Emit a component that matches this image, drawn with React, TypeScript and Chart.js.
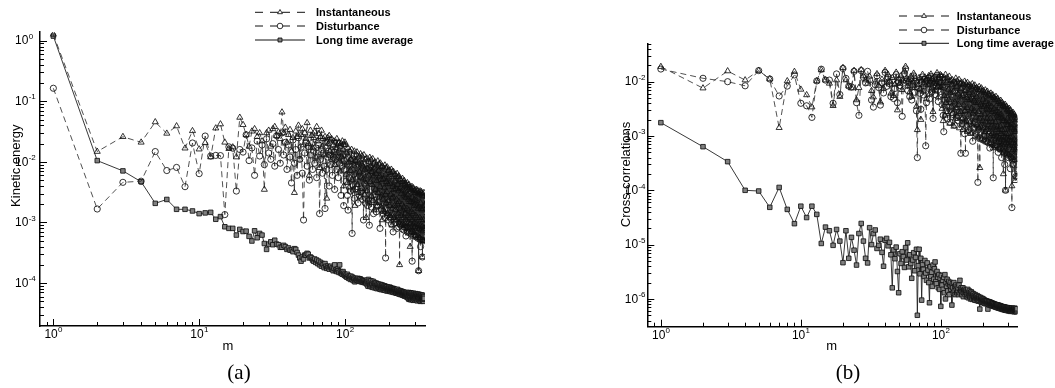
import React, { useEffect, useRef } from 'react';
import { Chart, registerables } from 'chart.js';

Chart.register(...registerables);

// ---------------- data ----------------
const M = [
  1, 2, 3, 4, 5, 6, 7, 8, 9, 10,
  11, 12, 13, 14, 15, 16, 17, 18, 19, 20,
  21, 22, 23, 24, 25, 26, 27, 28, 29, 30,
  31, 32, 33, 34, 35, 36, 37, 38, 39, 40,
  41, 42, 43, 44, 45, 46, 47, 48, 49, 50,
  51, 52, 53, 54, 55, 56, 57, 58, 59, 60,
  61, 62, 63, 64, 65, 66, 67, 68, 69, 70,
  71, 72, 73, 74, 75, 76, 77, 78, 79, 80,
  81, 82, 83, 84, 85, 86, 87, 88, 89, 90,
  91, 92, 93, 94, 95, 96, 97, 98, 99, 100,
  101, 102, 103, 104, 105, 106, 107, 108, 109, 110,
  111, 112, 113, 114, 115, 116, 117, 118, 119, 120,
  121, 122, 123, 124, 125, 126, 127, 128, 129, 130,
  131, 132, 133, 134, 135, 136, 137, 138, 139, 140,
  141, 142, 143, 144, 145, 146, 147, 148, 149, 150,
  151, 152, 153, 154, 155, 156, 157, 158, 159, 160,
  161, 162, 163, 164, 165, 166, 167, 168, 169, 170,
  171, 172, 173, 174, 175, 176, 177, 178, 179, 180,
  181, 182, 183, 184, 185, 186, 187, 188, 189, 190,
  191, 192, 193, 194, 195, 196, 197, 198, 199, 200,
  201, 202, 203, 204, 205, 206, 207, 208, 209, 210,
  211, 212, 213, 214, 215, 216, 217, 218, 219, 220,
  221, 222, 223, 224, 225, 226, 227, 228, 229, 230,
  231, 232, 233, 234, 235, 236, 237, 238, 239, 240,
  241, 242, 243, 244, 245, 246, 247, 248, 249, 250,
  251, 252, 253, 254, 255, 256, 257, 258, 259, 260,
  261, 262, 263, 264, 265, 266, 267, 268, 269, 270,
  271, 272, 273, 274, 275, 276, 277, 278, 279, 280,
  281, 282, 283, 284, 285, 286, 287, 288, 289, 290,
  291, 292, 293, 294, 295, 296, 297, 298, 299, 300,
  301, 302, 303, 304, 305, 306, 307, 308, 309, 310,
  311, 312, 313, 314, 315, 316, 317, 318, 319, 320,
  321, 322, 323, 324, 325, 326, 327, 328, 329, 330,
  331, 332, 333, 334, 335, 336, 337, 338, 339, 340,
  341, 342, 343, 344, 345, 346, 347, 348, 349, 350,
];

const SERIES_NAMES = ['Instantaneous', 'Disturbance', 'Long time average'];
const X_TICK_DECADES = [0, 1, 2];
const A_Y_TICK_DECADES = [0, -1, -2, -3, -4];
const B_Y_TICK_DECADES = [-2, -3, -4, -5, -6];

// (a) Kinetic energy
const A_INST = [
  1.27, 0.0148, 0.026, 0.021, 0.0455, 0.0295, 0.039, 0.0168, 0.0325, 0.0162,
  0.0207, 0.012, 0.036, 0.042, 0.021, 0.0165, 0.0175, 0.012, 0.054, 0.041,
  0.028, 0.018, 0.032, 0.035, 0.026, 0.03, 0.022, 0.0035, 0.03, 0.033,
  0.018, 0.035, 0.038, 0.027, 0.031, 0.024, 0.066, 0.03, 0.037, 0.021,
  0.028, 0.034, 0.015, 0.025, 0.0031, 0.032, 0.026, 0.04, 0.011, 0.028,
  0.035, 0.019, 0.03, 0.024, 0.044, 0.02, 0.006, 0.033, 0.027, 0.017,
  0.025, 0.031, 0.012, 0.038, 0.022, 0.029, 0.008, 0.026, 0.033, 0.018,
  0.024, 0.013, 0.026, 0.021, 0.0025, 0.025, 0.02, 0.027, 0.015, 0.023,
  0.024, 0.011, 0.019, 0.022, 0.009, 0.021, 0.017, 0.024, 0.014, 0.02,
  0.021, 0.007, 0.018, 0.02, 0.012, 0.022, 0.016, 0.004, 0.019, 0.021,
  0.019, 0.0062, 0.014, 0.0045, 0.017, 0.0098, 0.0038, 0.015, 0.0072, 0.011,
  0.016, 0.0051, 0.0125, 0.0034, 0.0088, 0.015, 0.0019, 0.0105, 0.0065, 0.013,
  0.0145, 0.0042, 0.0098, 0.0031, 0.012, 0.0068, 0.0026, 0.0135, 0.0055, 0.0092,
  0.0125, 0.0036, 0.0085, 0.0052, 0.013, 0.0029, 0.0075, 0.011, 0.0044, 0.0012,
  0.0115, 0.0033, 0.0078, 0.0024, 0.0102, 0.006, 0.0021, 0.0118, 0.0047, 0.0085,
  0.0108, 0.0027, 0.0069, 0.0042, 0.0112, 0.0023, 0.0058, 0.0095, 0.0016, 0.0079,
  0.0099, 0.0035, 0.0064, 0.0021, 0.0088, 0.0049, 0.0019, 0.0103, 0.0031, 0.0072,
  0.0092, 0.0026, 0.0058, 0.0039, 0.0095, 0.0018, 0.0051, 0.0083, 0.0028, 0.0011,
  0.0085, 0.0024, 0.0052, 0.0016, 0.0078, 0.0037, 0.0015, 0.0088, 0.0029, 0.0062,
  0.0079, 0.0021, 0.0047, 0.0032, 0.0082, 0.0014, 0.0043, 0.0071, 0.0023, 0.0056,
  0.0073, 0.0019, 0.0044, 0.0013, 0.0066, 0.0029, 0.0012, 0.0075, 0.0025, 0.0009,
  0.0068, 0.0017, 0.0039, 0.0026, 0.0069, 0.0012, 0.0035, 0.0061, 0.0019, 0.0048,
  0.0062, 0.0016, 0.0036, 0.0011, 0.0057, 0.0024, 0.0011, 0.0064, 0.002, 0.0042,
  0.0056, 0.0014, 0.0033, 0.0022, 0.0058, 0.001, 0.0002, 0.0052, 0.0017, 0.0038,
  0.0051, 0.0013, 0.003, 0.0009, 0.0047, 0.002, 0.00095, 0.0053, 0.0016, 0.0035,
  0.0047, 0.0012, 0.0028, 0.0018, 0.0049, 0.00088, 0.0026, 0.0043, 0.0014, 0.0033,
  0.0044, 0.0011, 0.0026, 0.00082, 0.004, 0.0017, 0.0008, 0.0045, 0.0013, 0.0029,
  0.0041, 0.001, 0.0024, 0.0016, 0.0042, 0.00077, 0.0022, 0.0037, 0.0012, 0.0004,
  0.0038, 0.00095, 0.0022, 0.00072, 0.0035, 0.0015, 0.0007, 0.0039, 0.0011, 0.0026,
  0.0036, 0.0009, 0.0021, 0.0014, 0.0037, 0.00068, 0.0019, 0.0033, 0.001, 0.0024,
  0.0034, 0.00085, 0.002, 0.00062, 0.0031, 0.0013, 0.0006, 0.0035, 0.00095, 0.0023,
  0.0033, 0.0008, 0.0019, 0.0012, 0.0034, 0.0006, 0.0017, 0.003, 0.0009, 0.00016,
  0.0032, 0.00078, 0.0018, 0.00056, 0.0029, 0.0012, 0.00055, 0.0033, 0.00088, 0.0021,
  0.0031, 0.00075, 0.0017, 0.0011, 0.0032, 0.00052, 0.0016, 0.0028, 0.00085, 0.00027,
  0.003, 0.00072, 0.0017, 0.0005, 0.0027, 0.0011, 0.0005, 0.0031, 0.0008, 0.0019,
];

const A_DIST = [
  0.164, 0.00167, 0.0046, 0.0048, 0.0148, 0.0072, 0.0081, 0.0039, 0.0205, 0.0064,
  0.0267, 0.0125, 0.0128, 0.0127, 0.00135, 0.0177, 0.0168, 0.0033, 0.016, 0.0145,
  0.028, 0.0105, 0.017, 0.006, 0.022, 0.0125, 0.019, 0.009, 0.024, 0.014,
  0.011, 0.02, 0.0085, 0.027, 0.016, 0.0095, 0.03, 0.013, 0.021, 0.0075,
  0.019, 0.012, 0.0045, 0.023, 0.0095, 0.016, 0.006, 0.025, 0.011, 0.0175,
  0.0065, 0.0011, 0.014, 0.021, 0.0085, 0.018, 0.005, 0.013, 0.02, 0.0075,
  0.015, 0.0095, 0.017, 0.0055, 0.012, 0.019, 0.0014, 0.011, 0.016, 0.0065,
  0.014, 0.0085, 0.0017, 0.017, 0.0075, 0.012, 0.015, 0.004, 0.013, 0.009,
  0.0155, 0.006, 0.012, 0.0145, 0.0035, 0.011, 0.013, 0.0075, 0.016, 0.0055,
  0.012, 0.0095, 0.014, 0.0028, 0.011, 0.0085, 0.013, 0.0019, 0.0105, 0.0075,
  0.0135, 0.0048, 0.0092, 0.0028, 0.0016, 0.0118, 0.0055, 0.0085, 0.0033, 0.0105,
  0.0074, 0.00066, 0.0112, 0.0041, 0.0062, 0.0025, 0.0098, 0.0036, 0.0087, 0.0052,
  0.0039, 0.0105, 0.0021, 0.0067, 0.0088, 0.0028, 0.0059, 0.0094, 0.0032, 0.0071,
  0.0082, 0.0024, 0.0061, 0.0011, 0.0092, 0.0043, 0.0069, 0.0021, 0.0078, 0.0049,
  0.0035, 0.0084, 0.0019, 0.0058, 0.0076, 0.0023, 0.0009, 0.0081, 0.0045, 0.0064,
  0.0072, 0.0018, 0.0053, 0.0079, 0.0028, 0.0062, 0.0014, 0.0075, 0.0037, 0.0056,
  0.0029, 0.0068, 0.0046, 0.0015, 0.0071, 0.0034, 0.0058, 0.0019, 0.0066, 0.0041,
  0.0061, 0.0022, 0.0048, 0.0008, 0.0067, 0.0031, 0.0053, 0.0016, 0.0059, 0.0036,
  0.0026, 0.0057, 0.0014, 0.0044, 0.0062, 0.0021, 0.0049, 0.0012, 0.0054, 0.00026,
  0.0047, 0.0017, 0.0055, 0.0033, 0.0013, 0.0051, 0.0024, 0.0042, 0.0011, 0.0049,
  0.0022, 0.0046, 0.0012, 0.0038, 0.0051, 0.0016, 0.0041, 0.00095, 0.0047, 0.0027,
  0.0043, 0.0014, 0.0036, 0.0007, 0.0048, 0.0023, 0.0039, 0.0011, 0.0044, 0.0019,
  0.0017, 0.0041, 0.001, 0.0031, 0.0045, 0.0013, 0.0036, 0.0008, 0.0042, 0.0022,
  0.0037, 0.0012, 0.0029, 0.00085, 0.0041, 0.0018, 0.0033, 0.00095, 0.0038, 0.0015,
  0.0009, 0.0034, 0.0016, 0.0027, 0.0039, 0.0011, 0.003, 0.00078, 0.0035, 0.0019,
  0.0031, 0.001, 0.0025, 0.00075, 0.0036, 0.0015, 0.0028, 0.00082, 0.0033, 0.0013,
  0.0012, 0.0006, 0.0029, 0.0021, 0.0034, 0.00088, 0.0026, 0.0007, 0.0031, 0.0017,
  0.0027, 0.00085, 0.0022, 0.0013, 0.0032, 0.00068, 0.0024, 0.001, 0.0029, 0.0015,
  0.0011, 0.0026, 0.00065, 0.0019, 0.003, 0.00095, 0.0023, 0.0007, 0.00023, 0.0028,
  0.0024, 0.00078, 0.0018, 0.0012, 0.0029, 0.0006, 0.0021, 0.00092, 0.0027, 0.0014,
  0.001, 0.0025, 0.00062, 0.0017, 0.0028, 0.00085, 0.0022, 0.00058, 0.0026, 0.0013,
  0.0023, 0.00072, 0.0017, 0.0011, 0.0027, 0.00055, 0.002, 0.00088, 0.0025, 0.00016,
  0.00095, 0.0024, 0.0006, 0.0016, 0.0026, 0.0008, 0.0021, 0.00052, 0.0025, 0.0004,
  0.0022, 0.0007, 0.0016, 0.00105, 0.0026, 0.00052, 0.0019, 0.00085, 0.0024, 0.00027,
  0.0009, 0.0023, 0.00058, 0.0015, 0.0025, 0.00075, 0.002, 0.0005, 0.0024, 0.0012,
];

const A_LONG = [
  1.19, 0.0105, 0.0071, 0.0047, 0.00207, 0.0024, 0.00165, 0.00165, 0.00155, 0.0014,
  0.00144, 0.00147, 0.00113, 0.00125, 0.00085, 0.0008, 0.0008, 0.00062, 0.00077, 0.00071,
  0.00072, 0.00059, 0.000495, 0.00073, 0.00056, 0.00066, 0.00062, 0.00045, 0.00036, 0.00044,
  4.8e-4, 4.3e-4, 5.1e-4, 4.4e-4, 4.3e-4, 3.9e-4, 3.9e-4, 4.2e-4, 4.0e-4, 3.6e-4,
  3.8e-4, 3.5e-4, 3.5e-4, 3.3e-4, 3.7e-4, 3.6e-4, 3.2e-4, 2.9e-4, 2.6e-4, 2.3e-4,
  2.7e-4, 2.5e-4, 2.9e-4, 2.9e-4, 3.1e-4, 3.0e-4, 2.6e-4, 2.7e-4, 2.6e-4, 2.4e-4,
  2.3e-4, 2.5e-4, 2.2e-4, 2.4e-4, 2.1e-4, 2.3e-4, 2.0e-4, 2.2e-4, 1.9e-4, 2.1e-4,
  2.0e-4, 1.8e-4, 2.1e-4, 1.9e-4, 1.75e-4, 1.9e-4, 1.8e-4, 1.7e-4, 1.85e-4, 1.9e-4,
  1.7e-4, 1.8e-4, 1.6e-4, 1.75e-4, 2.0e-4, 1.6e-4, 1.65e-4, 1.55e-4, 1.7e-4, 1.6e-4,
  1.5e-4, 2.0e-4, 1.55e-4, 1.45e-4, 1.5e-4, 1.4e-4, 1.55e-4, 1.45e-4, 1.35e-4, 1.4e-4,
  1.3e-4, 1.35e-4, 1.25e-4, 1.4e-4, 1.3e-4, 1.2e-4, 1.3e-4, 1.25e-4, 1.15e-4, 1.3e-4,
  1.2e-4, 1.15e-4, 1.25e-4, 1.1e-4, 1.2e-4, 1.15e-4, 1.05e-4, 1.2e-4, 1.1e-4, 1.15e-4,
  1.12e-4, 1.17e-4, 1.2e-4, 1.08e-4, 1.16e-4, 1.1e-4, 1.18e-4, 1.06e-4, 1.14e-4, 1.05e-4,
  1.1e-4, 1.07e-4, 1.03e-4, 1.11e-4, 1.05e-4, 1.09e-4, 1.01e-4, 1.07e-4, 1.02e-4, 1.0e-4,
  1.12e-4, 9.4e-5, 1.06e-4, 8.9e-5, 1.15e-4, 9.7e-5, 1.08e-4, 8.8e-5, 1.03e-4, 9.3e-5,
  1.09e-4, 8.7e-5, 1.0e-4, 9.5e-5, 8.5e-5, 1.07e-4, 9.0e-5, 9.9e-5, 8.4e-5, 1.02e-4,
  8.9e-5, 9.8e-5, 8.3e-5, 1.0e-4, 9.2e-5, 8.1e-5, 9.7e-5, 8.6e-5, 9.4e-5, 8.2e-5,
  9.6e-5, 8.4e-5, 9.1e-5, 7.9e-5, 9.5e-5, 8.3e-5, 8.9e-5, 7.8e-5, 9.3e-5, 8.5e-5,
  8.0e-5, 9.2e-5, 8.4e-5, 7.7e-5, 8.9e-5, 8.1e-5, 9.0e-5, 7.6e-5, 8.6e-5, 8.2e-5,
  8.8e-5, 7.5e-5, 8.5e-5, 7.9e-5, 8.7e-5, 7.4e-5, 8.3e-5, 8.0e-5, 7.6e-5, 8.4e-5,
  7.8e-5, 8.6e-5, 7.3e-5, 8.2e-5, 7.7e-5, 8.4e-5, 7.2e-5, 8.0e-5, 7.5e-5, 8.1e-5,
  7.4e-5, 8.2e-5, 7.1e-5, 7.9e-5, 7.6e-5, 8.1e-5, 7.0e-5, 7.8e-5, 7.3e-5, 7.9e-5,
  7.2e-5, 7.8e-5, 6.9e-5, 7.7e-5, 7.3e-5, 6.8e-5, 7.6e-5, 7.1e-5, 7.9e-5, 6.9e-5,
  7.5e-5, 6.7e-5, 7.3e-5, 7.0e-5, 7.6e-5, 6.6e-5, 7.2e-5, 6.9e-5, 7.4e-5, 6.5e-5,
  7.1e-5, 7.4e-5, 6.5e-5, 7.0e-5, 6.7e-5, 7.3e-5, 6.4e-5, 6.9e-5, 7.2e-5, 6.3e-5,
  6.9e-5, 6.5e-5, 7.1e-5, 6.2e-5, 6.8e-5, 7.0e-5, 6.1e-5, 6.7e-5, 6.4e-5, 6.9e-5,
  6.3e-5, 6.8e-5, 6.0e-5, 6.6e-5, 7.0e-5, 5.9e-5, 6.5e-5, 6.2e-5, 6.8e-5, 5.8e-5,
  6.8e-5, 5.6e-5, 6.3e-5, 7.0e-5, 5.4e-5, 6.5e-5, 6.0e-5, 6.9e-5, 5.5e-5, 6.4e-5,
  5.8e-5, 6.9e-5, 5.3e-5, 6.2e-5, 6.7e-5, 5.5e-5, 6.4e-5, 5.9e-5, 6.8e-5, 5.4e-5,
  6.3e-5, 5.7e-5, 6.6e-5, 5.2e-5, 6.1e-5, 6.8e-5, 5.6e-5, 6.3e-5, 5.4e-5, 6.5e-5,
  5.8e-5, 6.6e-5, 5.3e-5, 6.2e-5, 5.7e-5, 6.7e-5, 5.5e-5, 6.0e-5, 6.4e-5, 5.2e-5,
  6.1e-5, 5.6e-5, 6.5e-5, 5.1e-5, 6.3e-5, 5.8e-5, 6.6e-5, 5.4e-5, 6.0e-5, 5.7e-5,
  6.4e-5, 5.3e-5, 5.9e-5, 6.5e-5, 5.2e-5, 6.1e-5, 5.6e-5, 6.3e-5, 5.0e-5, 5.8e-5,
  6.2e-5, 5.4e-5, 6.0e-5, 5.1e-5, 6.4e-5, 5.5e-5, 5.9e-5, 6.2e-5, 5.3e-5, 5.7e-5,
  6.0e-5, 5.2e-5, 6.3e-5, 5.5e-5, 5.8e-5, 5.0e-5, 6.1e-5, 5.4e-5, 5.9e-5, 5.6e-5,
];

// (b) Cross-correlations
const B_INST = [
  0.0189, 0.0076, 0.0157, 0.0107, 0.016, 0.0112, 0.00142, 0.0103, 0.0153, 0.0072,
  0.0057, 0.0034, 0.0103, 0.0164, 0.0107, 0.0093, 0.0036, 0.0107, 0.0053, 0.0181,
  0.0107, 0.0083, 0.0076, 0.016, 0.0046, 0.00775, 0.0165, 0.0127, 0.0107, 0.0093,
  0.0125, 0.0068, 0.0052, 0.0098, 0.0139, 0.0085, 0.0042, 0.011, 0.0075, 0.016,
  0.0095, 0.0135, 0.0102, 0.0061, 0.0118, 0.0055, 0.0089, 0.0148, 0.003, 0.0112,
  0.0093, 0.0128, 0.0071, 0.0105, 0.0155, 0.019, 0.0115, 0.0082, 0.0108, 0.0064,
  0.0125, 0.0053, 0.0098, 0.0142, 0.0077, 0.0113, 0.0035, 0.0013, 0.0088, 0.0118,
  0.0072, 0.002, 0.0106, 0.0135, 0.0066, 0.0095, 0.0121, 0.0107, 0.0048, 0.0114,
  0.0087, 0.0128, 0.0059, 0.0102, 0.0137, 0.0076, 0.0112, 0.0028, 0.0098, 0.0125,
  0.0069, 0.0108, 0.0093, 0.0145, 0.0081, 0.0052, 0.0117, 0.0096, 0.0134, 0.0078,
  0.0128, 0.0032, 0.0085, 0.0019, 0.0112, 0.0055, 0.0024, 0.0135, 0.0041, 0.0096,
  0.0118, 0.0028, 0.0072, 0.0046, 0.0125, 0.0017, 0.0063, 0.0104, 0.0035, 0.0089,
  0.0108, 0.0026, 0.0066, 0.0015, 0.0098, 0.0042, 0.0021, 0.0115, 0.0033, 0.0081,
  0.0102, 0.0023, 0.0059, 0.0038, 0.0109, 0.0014, 0.0052, 0.0092, 0.0028, 0.0075,
  0.0097, 0.0021, 0.0055, 0.0013, 0.0088, 0.0037, 0.0018, 0.0101, 0.0029, 0.0068,
  0.0092, 0.0019, 0.0051, 0.0033, 0.0096, 0.0012, 0.0046, 0.0083, 0.0025, 0.0062,
  0.0087, 0.0018, 0.0047, 0.0011, 0.008, 0.0032, 0.0016, 0.0091, 0.0026, 0.0058,
  0.0082, 0.0017, 0.0044, 0.0029, 0.0086, 0.001, 0.0041, 0.0075, 0.0022, 0.0053,
  0.0077, 0.0016, 0.0041, 0.00095, 0.0071, 0.0028, 0.0014, 0.0081, 0.0021, 0.00026,
  0.0072, 0.0015, 0.0038, 0.0025, 0.0076, 0.0009, 0.0035, 0.0066, 0.0019, 0.0047,
  0.0068, 0.0014, 0.0035, 0.00085, 0.0062, 0.0025, 0.0012, 0.007, 0.0018, 0.0043,
  0.0063, 0.0013, 0.0032, 0.0021, 0.0066, 0.0008, 0.003, 0.0058, 0.0016, 0.0039,
  0.0059, 0.0012, 0.003, 0.00075, 0.0054, 0.0021, 0.001, 0.0061, 0.0015, 0.0035,
  0.0055, 0.0011, 0.0028, 0.0018, 0.0057, 0.0007, 0.0006, 0.0051, 0.0014, 0.0032,
  0.0051, 0.001, 0.0026, 0.00066, 0.0047, 0.0018, 0.00088, 0.0053, 0.0013, 0.0029,
  0.0047, 0.00095, 0.0024, 0.0015, 0.0049, 0.00062, 0.0022, 0.0043, 0.0012, 0.0027,
  0.0043, 0.0009, 0.0022, 0.00058, 0.0039, 0.0015, 0.00078, 0.0045, 0.0011, 0.0025,
  0.004, 0.00085, 0.0021, 0.0013, 0.0041, 0.00055, 0.0019, 0.0036, 0.001, 0.0002,
  0.0037, 0.0008, 0.0019, 0.00052, 0.0034, 0.0013, 0.0007, 0.0038, 0.00095, 0.0001,
  0.0034, 0.00075, 0.0018, 0.0011, 0.0035, 0.00048, 0.0016, 0.003, 0.0009, 0.0021,
  0.0031, 0.0007, 0.0016, 0.00045, 0.0028, 0.0011, 0.00062, 0.0032, 0.00085, 0.0019,
  0.0029, 0.00066, 0.0015, 0.00095, 0.003, 0.00042, 0.0014, 0.0026, 0.0008, 0.0017,
  0.0026, 0.00012, 0.0014, 0.0004, 0.0024, 0.00095, 0.00055, 0.0027, 0.00075, 0.0016,
  0.0024, 0.0006, 0.0013, 0.00085, 0.0025, 0.00036, 0.0012, 0.0022, 0.0007, 0.00015,
  0.0022, 0.00055, 0.0012, 0.00018, 0.002, 0.0008, 0.0005, 0.0021, 0.00065, 0.0014,
];

const B_DIST = [
  0.0171, 0.01155, 0.01, 0.0084, 0.016, 0.0112, 0.00545, 0.0083, 0.0133, 0.004,
  0.0036, 0.0022, 0.0103, 0.017, 0.0107, 0.0107, 0.004, 0.0139, 0.0058, 0.0175,
  0.0115, 0.0083, 0.008, 0.0155, 0.0041, 0.0024, 0.016, 0.012, 0.0095, 0.0155,
  0.0108, 0.0046, 0.0034, 0.0088, 0.0128, 0.0078, 0.0037, 0.0095, 0.0062, 0.0148,
  0.0082, 0.0121, 0.0092, 0.0053, 0.0105, 0.0049, 0.0075, 0.0135, 0.0041, 0.0098,
  0.0085, 0.0112, 0.0023, 0.0094, 0.0141, 0.0172, 0.0102, 0.0069, 0.0097, 0.0053,
  0.0112, 0.0046, 0.0087, 0.0128, 0.0064, 0.0101, 0.0029, 0.0004, 0.0076, 0.0105,
  0.0061, 0.0031, 0.0094, 0.0122, 0.0057, 0.0084, 0.011, 0.00066, 0.0041, 0.0102,
  0.0076, 0.0116, 0.0048, 0.0091, 0.0124, 0.0065, 0.0099, 0.0021, 0.0087, 0.0113,
  0.0058, 0.0096, 0.0082, 0.0131, 0.0069, 0.0043, 0.0104, 0.0085, 0.0121, 0.0066,
  0.0095, 0.0038, 0.0121, 0.0024, 0.0012, 0.0078, 0.0046, 0.0108, 0.0029, 0.0066,
  0.0049, 0.0021, 0.0102, 0.0034, 0.0071, 0.0018, 0.0089, 0.0042, 0.0027, 0.0058,
  0.0083, 0.0025, 0.0052, 0.0096, 0.0016, 0.0063, 0.0038, 0.0087, 0.0022, 0.0047,
  0.0031, 0.0079, 0.0019, 0.0056, 0.0091, 0.0027, 0.0044, 0.0072, 0.00048, 0.0061,
  0.0076, 0.0017, 0.0049, 0.0029, 0.0085, 0.0021, 0.0058, 0.0011, 0.0068, 0.00048,
  0.0035, 0.0071, 0.0015, 0.0047, 0.0079, 0.0024, 0.0053, 0.0013, 0.0064, 0.0031,
  0.0066, 0.0019, 0.0042, 0.0073, 0.0012, 0.0051, 0.0028, 0.0068, 0.0008, 0.0039,
  0.0023, 0.0062, 0.0014, 0.0044, 0.0069, 0.0018, 0.0036, 0.0057, 0.0011, 0.0049,
  0.0058, 0.0016, 0.0033, 0.00014, 0.0013, 0.0052, 0.0026, 0.0047, 0.0009, 0.0039,
  0.0021, 0.0054, 0.0012, 0.0037, 0.0059, 0.0016, 0.0031, 0.0049, 0.00085, 0.0042,
  0.0051, 0.0014, 0.001, 0.0033, 0.0055, 0.0019, 0.0039, 0.0008, 0.0046, 0.0027,
  0.0018, 0.0008, 0.0044, 0.0029, 0.0049, 0.0012, 0.0035, 0.00075, 0.0041, 0.0023,
  0.0043, 0.0011, 0.0027, 0.0006, 0.0046, 0.0016, 0.0032, 0.00078, 0.0038, 0.002,
  0.0015, 0.0039, 0.00072, 0.0026, 0.0042, 0.0012, 0.00017, 0.0034, 0.00085, 0.0029,
  0.0036, 0.00095, 0.0023, 0.00065, 0.0039, 0.0014, 0.0028, 0.0007, 0.0033, 0.0017,
  0.0012, 0.0032, 0.00068, 0.0021, 0.0035, 0.001, 0.0005, 0.0029, 0.00078, 0.0024,
  0.003, 0.00082, 0.0019, 0.00058, 0.0032, 0.0012, 0.0024, 0.00062, 0.0028, 0.0015,
  0.001, 0.0004, 0.0027, 0.0017, 0.0029, 0.00075, 0.0021, 0.00052, 0.0025, 0.0006,
  0.0026, 0.00072, 0.0016, 0.00048, 0.0028, 0.0003, 0.0021, 0.00055, 0.0024, 0.0001,
  0.00088, 0.0024, 0.0005, 0.0015, 0.0026, 0.00082, 0.0019, 0.00045, 0.0022, 0.0012,
  0.0022, 0.00065, 0.0014, 0.0004, 0.0024, 0.00095, 0.0017, 0.00048, 0.0021, 0.0011,
  0.00078, 0.0021, 0.00046, 0.00025, 0.0023, 0.00072, 0.0016, 0.0004, 0.002, 0.001,
  0.0019, 0.000048, 0.0013, 0.00036, 0.0021, 0.00068, 0.0015, 0.0003, 0.0018, 0.00092,
  0.0007, 0.0018, 0.00042, 0.0012, 0.002, 0.0002, 0.0014, 0.00038, 0.0017, 0.00085,
  0.0017, 0.00062, 0.0011, 0.00018, 0.0018, 0.00055, 0.0013, 0.0003, 0.0016, 0.00075,
];

const B_LONG = [
  1.76e-3, 6.35e-4, 3.37e-4, 1.0e-4, 9.7e-5, 4.86e-5, 1.13e-4, 4.45e-5, 2.43e-5, 5.1e-5,
  3.15e-5, 5.1e-5, 3.6e-5, 1.05e-5, 2.1e-5, 1.8e-5, 9.7e-6, 1.9e-5, 1.16e-5, 4.65e-6,
  1.8e-5, 5.6e-6, 1.36e-5, 7.9e-6, 4.2e-6, 1.6e-5, 2.45e-5, 1.16e-5, 5.6e-6, 4.6e-6,
  2.05e-5, 1.0e-5, 1.6e-5, 1.86e-5, 8.5e-6, 9.7e-6, 1.26e-5, 7.2e-6, 4.0e-6, 1.2e-5,
  1.3e-5, 9.5e-6, 1.1e-5, 6.5e-6, 1.6e-6, 8.0e-6, 5.5e-6, 9.0e-6, 3.2e-6, 1.3e-6,
  6.8e-6, 4.5e-6, 7.4e-6, 6.0e-6, 3.8e-6, 8.8e-6, 5.2e-6, 1.08e-5, 3.9e-6, 6.5e-6,
  4.5e-6, 2.4e-6, 5.2e-6, 7.1e-6, 3.3e-6, 5.8e-6, 8.2e-6, 5.0e-7, 4.1e-6, 8.2e-6,
  2.9e-6, 5.6e-6, 9.5e-7, 4.3e-6, 3.5e-6, 2.6e-6, 5.1e-6, 3.0e-6, 2.2e-6, 4.6e-6,
  3.4e-6, 2.0e-6, 8.5e-7, 3.9e-6, 2.6e-6, 3.1e-6, 1.7e-6, 4.2e-6, 2.3e-6, 3.6e-6,
  4.8e-6, 2.1e-6, 1.9e-6, 3.2e-6, 2.5e-6, 1.6e-6, 2.8e-6, 1.5e-6, 2.4e-6, 7.3e-7,
  2.7e-6, 1.8e-6, 2.2e-6, 1.5e-6, 2.5e-6, 1.3e-6, 2.8e-6, 1.0e-6, 2.0e-6, 1.7e-6,
  2.3e-6, 1.4e-6, 1.9e-6, 2.1e-6, 1.2e-6, 1.8e-6, 2.0e-6, 1.5e-6, 1.7e-6, 7.7e-7,
  1.9e-6, 1.6e-6, 1.3e-6, 2.0e-6, 1.4e-6, 1.7e-6, 1.2e-6, 1.8e-6, 1.5e-6, 1.3e-6,
  1.7e-6, 1.4e-6, 1.6e-6, 1.2e-6, 1.8e-6, 1.3e-6, 2.2e-6, 1.5e-6, 1.4e-6, 1.6e-6,
  1.2e-6, 1.5e-6, 1.35e-6, 1.6e-6, 1.1e-6, 1.45e-6, 1.3e-6, 1.5e-6, 1.2e-6, 1.4e-6,
  1.3e-6, 1.45e-6, 1.1e-6, 1.35e-6, 1.2e-6, 1.5e-6, 1.05e-6, 1.3e-6, 1.15e-6, 1.4e-6,
  1.1e-6, 1.3e-6, 1.0e-6, 1.25e-6, 1.35e-6, 1.05e-6, 1.28e-6, 9.8e-7, 1.2e-6, 1.12e-6,
  1.25e-6, 1.0e-6, 1.15e-6, 1.08e-6, 9.5e-7, 1.2e-6, 1.05e-6, 1.14e-6, 9.4e-7, 1.1e-6,
  1.0e-6, 1.15e-6, 9.3e-7, 1.08e-6, 1.0e-6, 9.1e-7, 1.1e-6, 9.5e-7, 1.04e-6, 6.5e-7,
  1.02e-6, 9.2e-7, 1.06e-6, 8.8e-7, 9.9e-7, 9.5e-7, 8.6e-7, 1.02e-6, 9.0e-7, 9.7e-7,
  8.6e-7, 9.9e-7, 8.9e-7, 9.5e-7, 8.3e-7, 9.4e-7, 9.0e-7, 8.2e-7, 9.3e-7, 8.7e-7,
  9.2e-7, 8.2e-7, 8.9e-7, 8.4e-7, 9.1e-7, 8.1e-7, 6.5e-7, 8.8e-7, 8.0e-7, 8.9e-7,
  8.4e-7, 7.8e-7, 8.8e-7, 8.1e-7, 7.7e-7, 8.7e-7, 8.0e-7, 7.6e-7, 8.5e-7, 7.8e-7,
  8.4e-7, 7.5e-7, 8.2e-7, 7.7e-7, 8.3e-7, 7.4e-7, 8.2e-7, 7.6e-7, 7.3e-7, 8.1e-7,
  7.6e-7, 8.0e-7, 7.2e-7, 7.9e-7, 7.4e-7, 7.1e-7, 7.9e-7, 7.3e-7, 7.8e-7, 7.0e-7,
  7.7e-7, 7.2e-7, 7.8e-7, 6.9e-7, 7.5e-7, 7.1e-7, 7.7e-7, 6.8e-7, 7.4e-7, 7.0e-7,
  7.6e-7, 6.8e-7, 7.3e-7, 6.7e-7, 7.5e-7, 7.1e-7, 6.6e-7, 7.4e-7, 6.8e-7, 7.2e-7,
  6.7e-7, 7.3e-7, 6.5e-7, 7.2e-7, 6.8e-7, 7.0e-7, 6.4e-7, 7.2e-7, 6.6e-7, 7.1e-7,
  6.5e-7, 7.0e-7, 6.3e-7, 7.1e-7, 6.7e-7, 6.4e-7, 7.0e-7, 6.5e-7, 6.2e-7, 6.9e-7,
  6.4e-7, 7.0e-7, 6.2e-7, 6.8e-7, 6.5e-7, 6.9e-7, 6.1e-7, 6.8e-7, 6.3e-7, 6.6e-7,
  6.9e-7, 6.2e-7, 6.6e-7, 6.3e-7, 6.8e-7, 6.0e-7, 6.7e-7, 6.2e-7, 6.5e-7, 6.8e-7,
  6.1e-7, 6.5e-7, 6.7e-7, 6.2e-7, 5.9e-7, 6.6e-7, 6.3e-7, 6.7e-7, 6.0e-7, 6.4e-7,
  6.6e-7, 6.0e-7, 6.4e-7, 6.8e-7, 6.1e-7, 6.5e-7, 5.9e-7, 6.6e-7, 6.2e-7, 6.4e-7,
  6.0e-7, 6.6e-7, 6.2e-7, 5.8e-7, 6.5e-7, 6.2e-7, 6.7e-7, 5.9e-7, 6.4e-7, 6.1e-7,
  5.9e-7, 6.5e-7, 6.1e-7, 6.7e-7, 6.2e-7, 5.8e-7, 6.5e-7, 6.0e-7, 6.3e-7, 6.6e-7,
];

// ---------------- styling / layout ----------------
const SANS = '"Liberation Sans", Arial, Helvetica, sans-serif';
const SERIF = '"Liberation Serif", "Times New Roman", serif';
const H = 388;

type Marker = 'triangle' | 'circle' | 'rect';
const SERIES_STYLE: { marker: Marker; radius: number; dash: number[]; line: string; lw: number; fill: string }[] = [
  { marker: 'triangle', radius: 3.5, dash: [6, 4], line: '#333', lw: 0.85, fill: 'rgba(255,255,255,0)' },
  { marker: 'circle', radius: 3.1, dash: [6, 4], line: '#333', lw: 0.85, fill: 'rgba(255,255,255,0)' },
  { marker: 'rect', radius: 3.2, dash: [], line: '#222', lw: 0.9, fill: '#808080' },
];

type Panel = {
  key: string;
  width: number;
  area: { left: number; top: number; right: number; bottom: number };
  xMin: number; xMax: number; yMin: number; yMax: number;
  series: number[][];
  yDecades: number[];
  yTitle: string; yTitleX: number; yTitleY: number;
  yLabelOffset: number;
  xTitleX: number;
  caption: string; captionX: number;
  legendX: number; legendTextX: number; legendY: number[];
};

const PANEL_A: Panel = {
  key: 'a', width: 530,
  area: { left: 40, top: 32, right: 425, bottom: 326 },
  xMin: 0.81, xMax: 354, yMin: 1.96e-5, yMax: 1.39,
  series: [A_INST, A_DIST, A_LONG],
  yDecades: A_Y_TICK_DECADES,
  yTitle: 'Kinetic energy', yTitleX: 16.7, yTitleY: 165.7,
  yLabelOffset: 25,
  xTitleX: 228,
  caption: '(a)', captionX: 239,
  legendX: 255, legendTextX: 316, legendY: [12.3, 26, 40],
};

const PANEL_B: Panel = {
  key: 'b', width: 525,
  area: { left: 117.3, top: 43.3, right: 487.3, bottom: 326.7 },
  xMin: 0.8, xMax: 352, yMin: 3.08e-7, yMax: 0.0509,
  series: [B_INST, B_DIST, B_LONG],
  yDecades: B_Y_TICK_DECADES,
  yTitle: 'Cross-correlations', yTitleX: 96, yTitleY: 174.5,
  yLabelOffset: 22.5,
  xTitleX: 301.7,
  caption: '(b)', captionX: 318,
  legendX: 369, legendTextX: 426.7, legendY: [16, 30, 43.3],
};

function drawMarker(ctx: CanvasRenderingContext2D, marker: Marker, x: number, y: number, r: number, fill: string) {
  ctx.beginPath();
  if (marker === 'triangle') {
    ctx.moveTo(x, y - r);
    ctx.lineTo(x + r * 0.866, y + r * 0.5);
    ctx.lineTo(x - r * 0.866, y + r * 0.5);
    ctx.closePath();
  } else if (marker === 'circle') {
    ctx.arc(x, y, r, 0, Math.PI * 2);
  } else {
    const s = r * 0.7071;
    ctx.rect(x - s, y - s, 2 * s, 2 * s);
  }
  ctx.fillStyle = fill;
  ctx.fill();
  ctx.stroke();
}

function drawPow(ctx: CanvasRenderingContext2D, exp: string, x: number, y: number, align: 'center' | 'left') {
  ctx.textBaseline = 'middle';
  ctx.textAlign = 'left';
  ctx.font = `12px ${SANS}`;
  const bw = ctx.measureText('10').width;
  ctx.font = `8px ${SANS}`;
  const ew = ctx.measureText(exp).width;
  const left = align === 'center' ? x - (bw + ew) / 2 : x;
  ctx.font = `12px ${SANS}`;
  ctx.fillText('10', left, y);
  ctx.font = `8px ${SANS}`;
  ctx.fillText(exp, left + bw + 0.3, y - 4.5);
}

function makeDecor(p: Panel) {
  return {
    id: 'decor_' + p.key,
    afterDraw(chart: any) {
      const ctx: CanvasRenderingContext2D = chart.ctx;
      const xs = chart.scales.x;
      const ys = chart.scales.y;
      const area = chart.chartArea;
      ctx.save();
      ctx.strokeStyle = '#000';
      ctx.fillStyle = '#000';
      ctx.lineWidth = 1;
      ctx.setLineDash([]);

      // x ticks (inward)
      for (let e = -1; e <= 3; e++) {
        for (let k = 1; k <= 9; k++) {
          const v = k * Math.pow(10, e);
          if (v <= xs.min || v >= xs.max) continue;
          const px = Math.round(xs.getPixelForValue(v)) + 0.5;
          const len = k === 1 ? 7 : 4;
          ctx.beginPath();
          ctx.moveTo(px, area.bottom);
          ctx.lineTo(px, area.bottom - len);
          ctx.stroke();
        }
      }
      // y ticks (inward)
      for (let e = -8; e <= 1; e++) {
        for (let k = 1; k <= 9; k++) {
          const v = k * Math.pow(10, e);
          if (v <= ys.min || v >= ys.max) continue;
          const py = Math.round(ys.getPixelForValue(v)) + 0.5;
          const len = k === 1 ? 7 : 4;
          ctx.beginPath();
          ctx.moveTo(area.left, py);
          ctx.lineTo(area.left + len, py);
          ctx.stroke();
        }
      }

      // tick labels
      X_TICK_DECADES.forEach((d) => {
        const px = xs.getPixelForValue(Math.pow(10, d));
        drawPow(ctx, String(d), px, area.bottom + 8.5, 'center');
      });
      p.yDecades.forEach((d) => {
        const py = ys.getPixelForValue(Math.pow(10, d));
        drawPow(ctx, String(d), area.left - p.yLabelOffset, py + 0.5, 'left');
      });

      // axis titles
      ctx.font = `13px ${SANS}`;
      ctx.textAlign = 'center';
      ctx.textBaseline = 'middle';
      ctx.fillText('m', p.xTitleX, 346.7);
      ctx.save();
      ctx.translate(p.yTitleX, p.yTitleY);
      ctx.rotate(-Math.PI / 2);
      ctx.fillText(p.yTitle, 0, 0);
      ctx.restore();

      // caption
      ctx.font = `21px ${SERIF}`;
      ctx.textAlign = 'center';
      ctx.textBaseline = 'middle';
      ctx.fillText(p.caption, p.captionX, 373);

      // legend
      const x0 = p.legendX;
      const x1 = p.legendX + 50;
      const xc = (x0 + x1) / 2;
      SERIES_NAMES.forEach((name, i) => {
        const st = SERIES_STYLE[i];
        const y = p.legendY[i];
        ctx.strokeStyle = '#111';
        ctx.lineWidth = 1;
        ctx.setLineDash(st.dash.length ? [8, 7] : []);
        ctx.beginPath();
        ctx.moveTo(x0, y);
        ctx.lineTo(xc, y);
        ctx.stroke();
        ctx.beginPath();
        ctx.moveTo(x1, y);
        ctx.lineTo(xc, y);
        ctx.stroke();
        ctx.setLineDash([]);
        ctx.lineWidth = 0.8;
        ctx.strokeStyle = '#000';
        drawMarker(ctx, st.marker, xc, y, 2.8, i === 2 ? st.fill : '#ffffff');
        ctx.fillStyle = '#000';
        ctx.font = `bold 11px ${SANS}`;
        ctx.textAlign = 'left';
        ctx.textBaseline = 'middle';
        ctx.fillText(name, p.legendTextX, y + 0.5);
      });
      ctx.restore();
    },
  };
}

function makeChart(canvas: HTMLCanvasElement, p: Panel) {
  const yAxisW = 40;
  const datasets = p.series.map((vals, i) => {
    const st = SERIES_STYLE[i];
    return {
      label: SERIES_NAMES[i],
      data: M.map((m, j) => ({ x: m, y: vals[j] })),
      borderColor: st.line,
      borderWidth: st.lw,
      borderDash: st.dash,
      pointStyle: st.marker,
      pointRadius: st.radius,
      pointBorderColor: '#111',
      pointBorderWidth: 0.85,
      pointBackgroundColor: st.fill,
      tension: 0,
      fill: false,
    };
  });
  return new Chart(canvas, {
    type: 'line',
    data: { datasets },
    options: {
      responsive: false,
      maintainAspectRatio: false,
      animation: false,
      events: [],
      layout: {
        padding: {
          left: p.area.left - yAxisW,
          top: p.area.top,
          right: p.width - p.area.right,
          bottom: 0,
        },
      },
      plugins: { legend: { display: false }, tooltip: { enabled: false }, title: { display: false } },
      scales: {
        x: {
          type: 'logarithmic',
          position: 'bottom',
          min: p.xMin,
          max: p.xMax,
          ticks: { display: false },
          grid: { display: false },
          border: { display: true, color: '#000', width: 1.5 },
          afterFit: (s: any) => { s.height = H - p.area.bottom; },
        },
        y: {
          type: 'logarithmic',
          position: 'left',
          min: p.yMin,
          max: p.yMax,
          ticks: { display: false },
          grid: { display: false },
          border: { display: true, color: '#000', width: 1.5 },
          afterFit: (s: any) => { s.width = yAxisW; },
        },
      },
    } as any,
    plugins: [makeDecor(p)],
  });
}

export default function App() {
  const refA = useRef<HTMLCanvasElement>(null);
  const refB = useRef<HTMLCanvasElement>(null);
  useEffect(() => {
    const charts = [makeChart(refA.current!, PANEL_A), makeChart(refB.current!, PANEL_B)];
    return () => charts.forEach((c) => c.destroy());
  }, []);
  return (
    <div style={{ position: 'absolute', left: 0, top: 0, width: 1055, height: H, background: '#fff' }}>
      <canvas ref={refA} width={530} height={H}
        style={{ position: 'absolute', left: 0, top: 0, width: 530, height: H }} />
      <canvas ref={refB} width={525} height={H}
        style={{ position: 'absolute', left: 530, top: 0, width: 525, height: H }} />
    </div>
  );
}
